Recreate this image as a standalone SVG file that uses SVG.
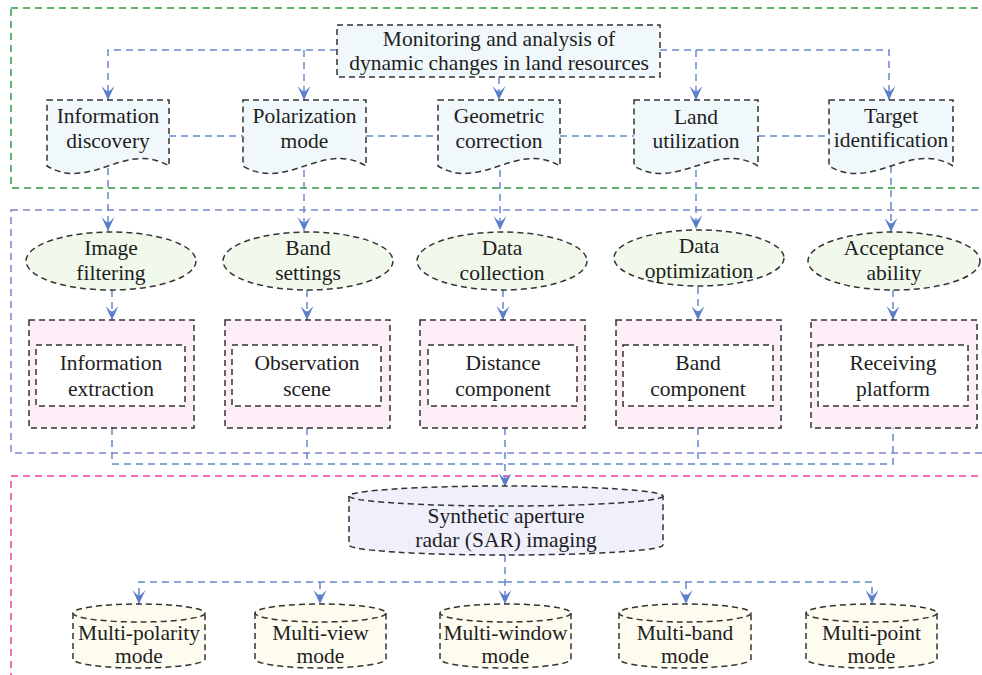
<svg xmlns="http://www.w3.org/2000/svg" width="982" height="675" viewBox="0 0 982 675" font-family="'Liberation Serif', 'DejaVu Serif', serif">
<style>
text{font-family:'Liberation Serif','Noto Serif','DejaVu Serif',serif}
.t{font-size:21.5px;fill:#1e1e1e;text-anchor:middle}
.sh{stroke:#333;stroke-width:1.5;stroke-dasharray:6 4}
.doc{fill:#f0f8fb}
.ell{fill:#f1f9ec}
.pk{fill:#fdeef7}
.wh{fill:#ffffff}
.sar{fill:#f0effc}
.cy{fill:#fdfcee}
.c{fill:none;stroke:#6689d0;stroke-width:1.5;stroke-dasharray:7 5}
.ca{fill:none;stroke:#6689d0;stroke-width:1.5;stroke-dasharray:7 5;marker-end:url(#ah)}
</style>
<defs>
<marker id="ah" viewBox="-15 -8 16 16" refX="0" refY="0" markerWidth="16" markerHeight="16" markerUnits="userSpaceOnUse" orient="auto">
<path d="M0,0 L-14,-6.5 Q-9,-2 -8.5,0 Q-9,2 -14,6.5 Z" fill="#5b7fcb"/>
</marker>
</defs>
<rect width="982" height="675" fill="#ffffff"/>
<g id="frames" fill="none" stroke-width="1.5" stroke-dasharray="7 5">
<rect x="11" y="8" width="1000" height="180" stroke="#2e9b3e"/>
<rect x="11" y="210" width="1000" height="243" stroke="#7b84cc"/>
<rect x="11" y="476" width="1000" height="260" stroke="#e8409c"/>
</g>
<g id="connectors">
<path class="ca" d="M337,50 H108 V100"/>
<path class="ca" d="M304,50 V100"/>
<path class="ca" d="M660,50 H889 V100"/>
<path class="ca" d="M696,50 V100"/>
<path class="ca" d="M499,77 V100"/>
<path class="c" d="M169,136 H243"/>
<path class="c" d="M366,136 H438"/>
<path class="c" d="M560,136 H634"/>
<path class="c" d="M758,136 H829"/>
<path class="ca" d="M108,168 V231"/>
<path class="ca" d="M304,170 V231"/>
<path class="ca" d="M500,170 V230"/>
<path class="ca" d="M696,170 V229"/>
<path class="ca" d="M891,166 V232"/>
<path class="ca" d="M112,290 V320"/>
<path class="ca" d="M307,290 V320"/>
<path class="ca" d="M503,290 V320"/>
<path class="ca" d="M698,287 V320"/>
<path class="ca" d="M893,290 V320"/>
<path class="c" d="M112,428 V464 H893 V428"/>
<path class="c" d="M307,428 V464"/>
<path class="c" d="M505,428 V464"/>
<path class="c" d="M698,428 V464"/>
<path class="ca" d="M505,464 V487"/>
<path class="ca" d="M505,555 V604"/>
<path class="ca" d="M505,582 H139 V604"/>
<path class="ca" d="M320,582 V604"/>
<path class="ca" d="M505,582 H872 V604"/>
<path class="ca" d="M686,582 V604"/>
</g>
<g id="top">
<rect x="337" y="25" width="323" height="52" class="doc sh"/>
<text class="t" x="499" y="46">Monitoring and analysis of</text>
<text class="t" x="499" y="70">dynamic changes in land resources</text>
</g>
<g id="doc-information-discovery">
<path class="doc sh" d="M47,100 H169 V166 C126,140 90,192 47,166 Z"/>
<text class="t" x="108" y="123">Information</text>
<text class="t" x="108" y="148">discovery</text>
</g>
<g id="doc-polarization-mode">
<path class="doc sh" d="M243,100 H366 V166 C323,140 286,192 243,166 Z"/>
<text class="t" x="304.5" y="123">Polarization</text>
<text class="t" x="304.5" y="148">mode</text>
</g>
<g id="doc-geometric-correction">
<path class="doc sh" d="M438,100 H560 V166 C517,140 481,192 438,166 Z"/>
<text class="t" x="499" y="123">Geometric</text>
<text class="t" x="499" y="148">correction</text>
</g>
<g id="doc-land-utilization">
<path class="doc sh" d="M634,100 H758 V166 C715,140 677,192 634,166 Z"/>
<text class="t" x="696" y="124">Land</text>
<text class="t" x="696" y="148">utilization</text>
</g>
<g id="doc-target-identification">
<path class="doc sh" d="M829,100 H953 V166 C910,140 872,192 829,166 Z"/>
<text class="t" x="891" y="123">Target</text>
<text class="t" x="891" y="147">identification</text>
</g>
<g id="ell-image-filtering">
<ellipse class="ell sh" cx="111" cy="261" rx="85" ry="29"/>
<text class="t" x="111" y="255">Image</text>
<text class="t" x="111" y="280">filtering</text>
</g>
<g id="ell-band-settings">
<ellipse class="ell sh" cx="308" cy="261" rx="85" ry="29"/>
<text class="t" x="308" y="255">Band</text>
<text class="t" x="308" y="280">settings</text>
</g>
<g id="ell-data-collection">
<ellipse class="ell sh" cx="502" cy="261" rx="85" ry="29"/>
<text class="t" x="502" y="255">Data</text>
<text class="t" x="502" y="280">collection</text>
</g>
<g id="ell-data-optimization">
<ellipse class="ell sh" cx="699" cy="258" rx="85" ry="28"/>
<text class="t" x="699" y="253">Data</text>
<text class="t" x="699" y="278">optimization</text>
</g>
<g id="ell-acceptance-ability">
<ellipse class="ell sh" cx="894" cy="261" rx="86" ry="29"/>
<text class="t" x="894" y="255">Acceptance</text>
<text class="t" x="894" y="280">ability</text>
</g>
<g id="box-information-extraction">
<rect class="pk sh" x="29" y="320" width="165" height="108"/>
<rect class="wh sh" x="36" y="345" width="149" height="61"/>
<text class="t" x="111" y="370">Information</text>
<text class="t" x="111" y="396">extraction</text>
</g>
<g id="box-observation-scene">
<rect class="pk sh" x="225" y="320" width="165" height="108"/>
<rect class="wh sh" x="232" y="345" width="149" height="61"/>
<text class="t" x="307" y="370">Observation</text>
<text class="t" x="307" y="396">scene</text>
</g>
<g id="box-distance-component">
<rect class="pk sh" x="420" y="320" width="165" height="108"/>
<rect class="wh sh" x="428" y="345" width="149" height="61"/>
<text class="t" x="503" y="370">Distance</text>
<text class="t" x="503" y="396">component</text>
</g>
<g id="box-band-component">
<rect class="pk sh" x="616" y="320" width="165" height="108"/>
<rect class="wh sh" x="623" y="345" width="150" height="61"/>
<text class="t" x="698" y="370">Band</text>
<text class="t" x="698" y="396">component</text>
</g>
<g id="box-receiving-platform">
<rect class="pk sh" x="811" y="320" width="166" height="108"/>
<rect class="wh sh" x="818" y="345" width="150" height="61"/>
<text class="t" x="893" y="370">Receiving</text>
<text class="t" x="893" y="396">platform</text>
</g>
<g id="cyl-sar">
<path class="sar sh" d="M349,496 V545 A157,10 0 0 0 663,545 V496"/>
<ellipse class="sar sh" cx="506" cy="496" rx="157" ry="10"/>
<text class="t" x="506" y="523">Synthetic aperture</text>
<text class="t" x="506" y="547">radar (SAR) imaging</text>
</g>
<g id="cyl-multi-polarity">
<path class="cy sh" d="M73,613 V659 A66,9 0 0 0 205,659 V613"/>
<ellipse class="cy sh" cx="139" cy="613" rx="66" ry="9"/>
<text class="t" x="139" y="640">Multi-polarity</text>
<text class="t" x="139" y="663">mode</text>
</g>
<g id="cyl-multi-view">
<path class="cy sh" d="M255,613 V659 A65.5,9 0 0 0 386,659 V613"/>
<ellipse class="cy sh" cx="320.5" cy="613" rx="65.5" ry="9"/>
<text class="t" x="320.5" y="640">Multi-view</text>
<text class="t" x="320.5" y="663">mode</text>
</g>
<g id="cyl-multi-window">
<path class="cy sh" d="M440,613 V659 A65.5,9 0 0 0 571,659 V613"/>
<ellipse class="cy sh" cx="505.5" cy="613" rx="65.5" ry="9"/>
<text class="t" x="505.5" y="640">Multi-window</text>
<text class="t" x="505.5" y="663">mode</text>
</g>
<g id="cyl-multi-band">
<path class="cy sh" d="M619,613 V659 A66,9 0 0 0 751,659 V613"/>
<ellipse class="cy sh" cx="685" cy="613" rx="66" ry="9"/>
<text class="t" x="685" y="640">Multi-band</text>
<text class="t" x="685" y="663">mode</text>
</g>
<g id="cyl-multi-point">
<path class="cy sh" d="M806,613 V659 A65.5,9 0 0 0 937,659 V613"/>
<ellipse class="cy sh" cx="871.5" cy="613" rx="65.5" ry="9"/>
<text class="t" x="871.5" y="640">Multi-point</text>
<text class="t" x="871.5" y="663">mode</text>
</g>
</svg>
